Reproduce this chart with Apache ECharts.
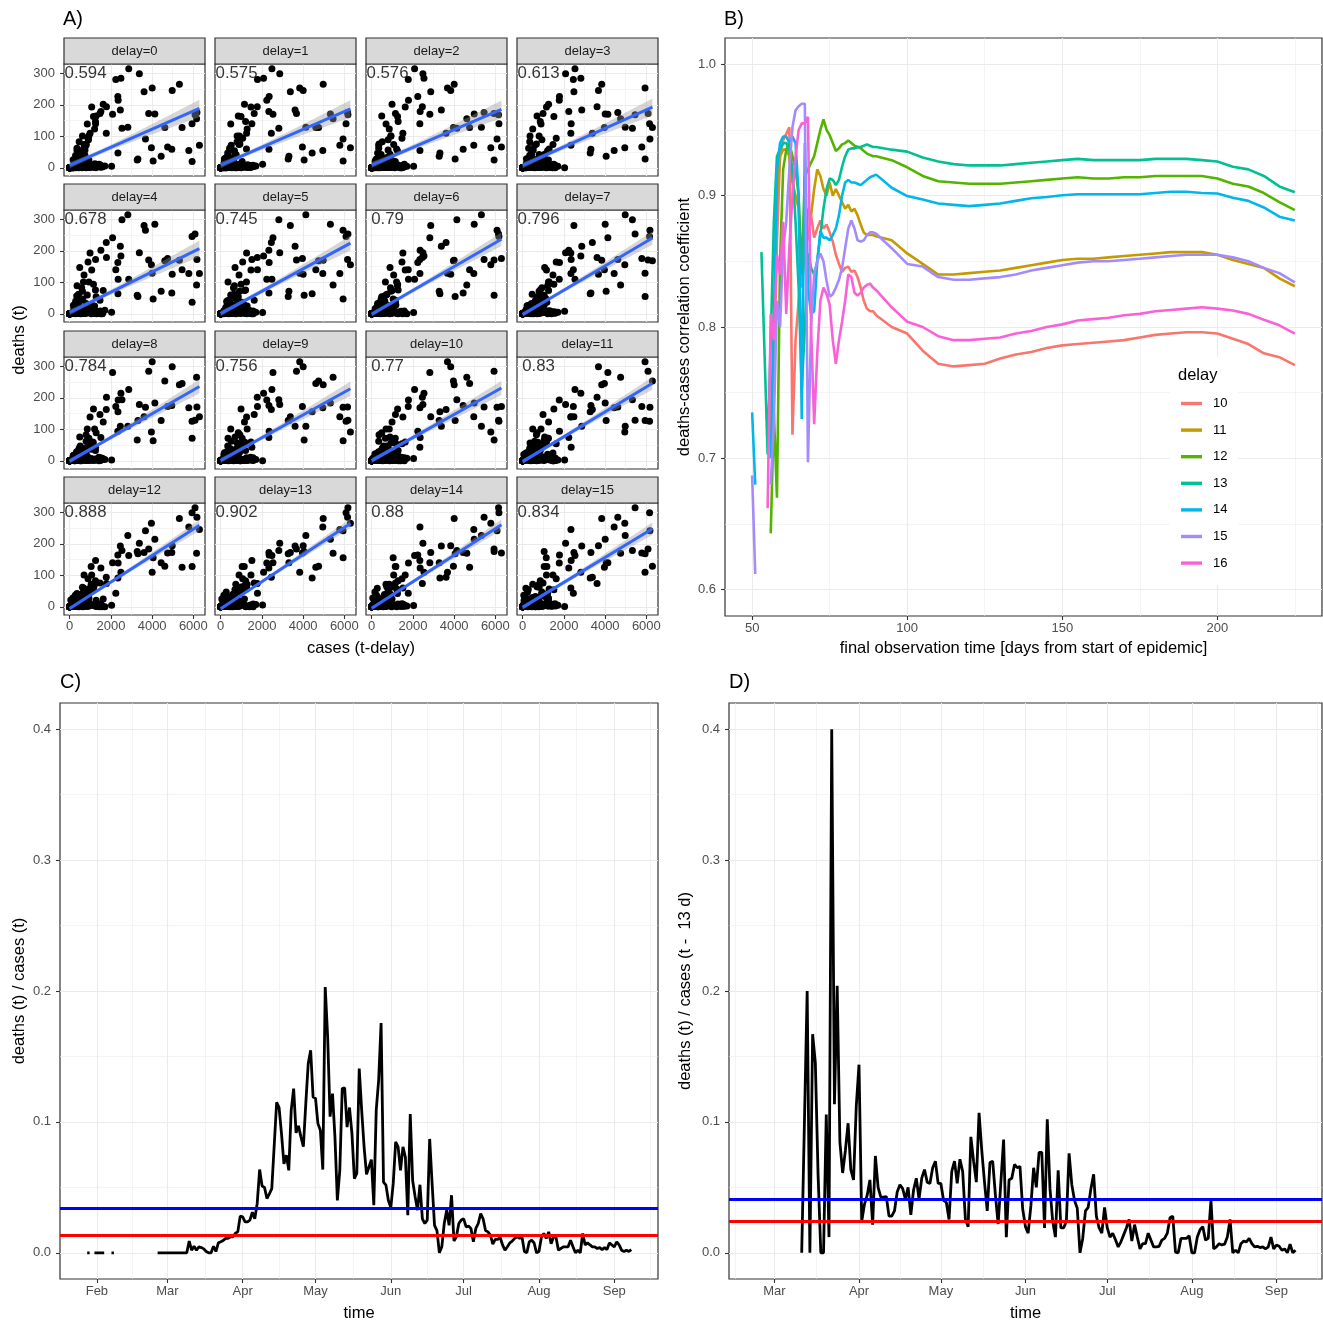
<!DOCTYPE html>
<html>
<head>
<meta charset="utf-8">
<script src="https://cdn.jsdelivr.net/npm/echarts@6/dist/echarts.min.js"></script>
<style>
html,body{margin:0;padding:0;background:#fff}
#chart{width:1323px;height:1321px}
</style>
</head>
<body>
<div id="chart"></div>
<script>
// ---------------- data ----------------
const startDate = '2020-01-28';            // day 0 of the daily series

// daily new cases, day 0 .. 224
const cases = [
  4,1,0,2,1,2,1,1,0,0,
  2,1,0,0,0,0,0,0,0,0,
  0,0,0,0,0,0,0,0,0,2,
  1,11,10,19,33,38,52,66,138,284,
  163,55,237,157,271,802,693,733,1043,1174,
  1144,1042,5940,4049,3276,3311,4438,2342,4954,5780,
  6294,3965,4751,4615,5453,6156,6174,6082,5936,3677,
  3834,4003,4974,5323,4133,2821,2537,2082,2486,2866,
  3380,3609,2458,1775,1785,2237,2352,2337,1514,1257,
  988,1154,1627,1470,1068,890,697,488,854,1284,
  1209,1251,667,357,933,798,933,913,620,583,
  342,513,797,460,745,638,431,289,342,432,
  353,741,286,738,333,183,342,213,555,507,
  301,250,214,350,169,301,396,555,247,192,
  378,345,580,770,601,687,537,503,587,630,
  477,256,298,466,446,390,532,378,248,397,
  442,399,534,583,395,249,159,412,569,209,
  815,781,305,586,633,684,870,955,240,509,
  879,741,1045,1147,1122,555,436,966,1226,1445,
  1449,1415,625,561,1390,1707,1510,1586,2034,1427,
  711,1278,1576,1507,1571,1479,782,610,1218,1576,
  1571,1479,1311,947,509,1218,1504,1256,1311,1453,
  1378,988,814,1499,1176
];

// daily new deaths, day 0 .. 224
const deaths = [
  0,0,0,0,0,0,0,0,0,0,
  0,0,0,0,0,0,0,0,0,0,
  0,0,0,0,0,0,0,0,0,0,
  0,0,0,0,0,0,0,0,0,0,
  0,0,2,0,1,2,3,3,4,2,
  4,8,20,22,25,28,37,47,59,55,
  72,64,66,128,128,156,176,169,140,92,
  173,254,246,266,171,129,126,170,285,315,
  299,242,184,110,194,281,215,227,179,140,
  110,163,202,173,193,94,74,43,139,165,
  123,147,60,54,25,76,101,89,101,33,
  10,21,72,83,57,42,27,10,11,47,
  62,40,39,33,11,1,29,18,29,27,
  11,4,6,18,26,17,21,10,3,3,
  16,14,15,12,6,3,2,12,9,9,
  12,6,3,6,12,9,6,7,3,1,
  6,8,5,8,3,1,0,4,7,5,
  3,9,1,1,6,7,11,8,1,1,
  11,5,7,10,8,3,0,3,13,4,
  7,4,1,1,5,6,6,5,5,11,
  5,0,5,4,4,8,3,0,7,3,
  5,6,4,1,3,9,3,5,6,10,
  5,1,0,3,3
];

const delays = [0,1,2,3,4,5,6,7,8,9,10,11,12,13,14,15];
const corrLabels = ['0.594','0.575','0.576','0.613','0.678','0.745','0.79','0.796',
                    '0.784','0.756','0.77','0.83','0.888','0.902','0.88','0.834'];

// correlation coefficient vs final observation day, one array per delay
const corrDays = [50,51,52,53,54,55,56,57,58,59,60,61,62,63,64,65,66,67,68,69,70,
  71,72,73,74,75,76,77,78,79,80,81,82,83,84,85,86,87,88,89,90,
  95,100,105,110,115,120,125,130,135,140,145,150,155,160,165,170,175,180,185,190,195,200,205,210,215,220,225];
const corrDelayNames = ['10','11','12','13','14','15','16'];
const corr10 = [null,null,null,null,null,null,0.727,0.77,0.865,0.93,
  0.942,0.947,0.952,0.718,0.79,0.82,0.85,0.86,0.868,0.885,
  0.868,0.875,0.881,0.875,0.878,0.872,0.865,0.855,0.848,0.842,
  0.845,0.846,0.842,0.843,0.838,0.83,0.82,0.814,0.812,0.812,0.809,
  0.80,0.795,0.782,0.772,0.770,0.771,0.772,0.776,0.779,0.781,0.784,0.786,0.787,0.788,
  0.789,0.790,0.792,0.794,0.795,0.796,0.796,0.795,0.791,0.787,0.780,0.777,0.771];
const corr11 = [null,null,null,null,null,null,0.72,0.80,0.90,0.93,
  0.935,0.935,0.93,0.91,0.90,0.89,0.83,0.86,0.89,0.885,
  0.905,0.92,0.915,0.905,0.90,0.91,0.90,0.905,0.90,0.895,
  0.89,0.893,0.888,0.89,0.885,0.878,0.872,0.870,0.870,0.870,0.869,
  0.866,0.856,0.848,0.840,0.840,0.841,0.842,0.843,0.845,0.847,0.849,0.851,0.852,0.852,
  0.853,0.854,0.855,0.856,0.857,0.857,0.857,0.855,0.851,0.848,0.845,0.837,0.831];
const corr12 = [null,null,null,null,null,null,0.643,0.735,0.67,0.85,
  0.92,0.935,0.94,0.93,0.92,0.90,0.84,0.915,0.92,0.925,
  0.93,0.94,0.95,0.958,0.95,0.946,0.94,0.934,0.936,0.939,
  0.94,0.942,0.94,0.938,0.937,0.936,0.934,0.932,0.931,0.930,0.930,
  0.927,0.9216,0.915,0.911,0.910,0.909,0.909,0.909,0.910,0.911,0.912,0.913,0.914,0.913,
  0.913,0.914,0.914,0.915,0.915,0.915,0.915,0.913,0.909,0.907,0.902,0.895,0.889];
const corr13 = [null,null,null,0.857,0.78,0.703,0.79,0.88,0.93,0.935,
  0.94,0.94,0.935,0.92,0.88,0.83,0.753,0.80,0.856,0.845,
  0.84,0.85,0.87,0.89,0.905,0.913,0.912,0.908,0.912,0.922,
  0.93,0.935,0.936,0.936,0.937,0.937,0.938,0.939,0.938,0.937,0.937,
  0.935,0.9335,0.929,0.926,0.924,0.923,0.923,0.923,0.924,0.925,0.926,0.927,0.928,0.927,
  0.927,0.927,0.927,0.928,0.928,0.928,0.927,0.926,0.922,0.920,0.915,0.907,0.9026];
const corr14 = [0.735,0.68,null,null,null,null,0.70,0.80,0.92,0.94,
  0.945,0.945,0.94,0.945,0.94,0.90,0.73,0.94,0.83,0.81,
  0.812,0.85,0.873,0.868,0.868,0.866,0.87,0.875,0.885,0.90,
  0.91,0.912,0.91,0.91,0.909,0.908,0.91,0.912,0.914,0.915,0.916,
  0.906,0.8997,0.897,0.894,0.893,0.892,0.893,0.894,0.896,0.898,0.899,0.9003,0.901,0.901,
  0.901,0.901,0.901,0.902,0.903,0.903,0.902,0.9016,0.8984,0.896,0.891,0.884,0.881];
const corr15 = [0.687,0.612,null,null,null,null,0.68,0.727,0.82,0.80,
  0.86,0.88,0.92,0.952,0.965,0.968,0.97,0.97,0.697,0.80,
  0.84,0.85,0.856,0.85,0.835,0.823,0.825,0.83,0.836,0.845,
  0.86,0.875,0.881,0.875,0.866,0.865,0.866,0.87,0.872,0.872,0.871,
  0.86,0.848,0.846,0.838,0.836,0.836,0.837,0.838,0.840,0.843,0.845,0.847,0.849,0.850,
  0.850,0.851,0.852,0.853,0.854,0.855,0.855,0.855,0.853,0.850,0.845,0.841,0.834];
const corr16 = [null,null,null,null,null,0.662,0.81,0.79,0.855,0.84,
  0.88,0.81,0.86,0.90,0.93,0.95,0.955,0.955,0.96,0.80,
  0.726,0.78,0.82,0.83,0.825,0.817,0.79,0.772,0.79,0.804,
  0.82,0.84,0.838,0.826,0.824,0.826,0.83,0.832,0.833,0.83,0.828,
  0.815,0.804,0.80,0.793,0.790,0.790,0.791,0.792,0.795,0.797,0.800,0.802,0.805,0.806,
  0.807,0.809,0.810,0.812,0.813,0.814,0.815,0.814,0.8125,0.810,0.8055,0.8013,0.7949];
const corrColors = ['#F8766D','#C49A00','#53B400','#00C094','#00B6EB','#A58AFF','#FB61D7'];

// deaths(t) / cases(t), day 0 .. 224
const ratioSame = [
  0,0,null,0,0,0,0,0,null,null,
  0,0,null,null,null,null,null,null,null,null,
  null,null,null,null,null,null,null,null,null,0,
  0,0,0,0,0,0,0,0,0,0,
  0,0,0.009,0.002,0.005,0.002,0.0046,0.004,0.003,0.001,
  0,0,0.005,0.001,0.0076,0.0084,0.0094,0.011,0.011,0.0122,
  0.0122,0.015,0.016,0.028,0.0275,0.0237,0.0237,0.025,0.031,0.026,
  0.0377,0.0636,0.051,0.050,0.0415,0.045,0.049,0.082,0.115,0.111,
  0.091,0.068,0.0746,0.063,0.109,0.1254,0.0916,0.097,0.0886,0.081,
  0.114,0.1445,0.1547,0.119,0.118,0.0987,0.0936,0.0636,0.203,0.165,
  0.104,0.1216,0.0886,0.040,0.063,0.1254,0.126,0.096,0.111,0.091,
  0.0567,0.0606,0.1407,0.109,0.081,0.060,0.0656,0.0712,0.0364,0.109,
  0.132,0.1756,0.054,0.0517,0.040,0.0346,0.053,0.0847,0.081,0.063,
  0.081,0.073,0.0288,0.106,0.055,0.043,0.0326,0.052,0.026,0.0224,
  0.025,0.087,0.053,0.021,0.017,0,0.0046,0.0224,0.0326,0.021,
  0.044,0.009,0.0122,0.0224,0.025,0.026,0.0198,0.0204,0.0186,0.0084,
  0.0186,0.0224,0.030,0.026,0.017,0.016,0.0135,0.0066,0.0102,0.0102,
  0.012,0.006,0.002,0.0046,0.0076,0.009,0.011,0.0122,0.011,0.0122,
  0.001,0,0.0084,0.0097,0.0075,0,0.001,0.012,0.0148,0.011,
  0.016,0.007,0.012,0.012,0.002,0.0033,0.0046,0.0046,0.0046,0.0097,
  0.0046,0,0.002,0,0.0148,0.006,0.0076,0.006,0.0046,0.0046,
  0.0033,0.004,0.0025,0.004,0.0025,0.0076,0.006,0.0046,0.0084,0.006,
  0.002,0.001,0.002,0.001,0.0025
];

// deaths(t) / cases(t - 13 d), day 0 .. 224
const ratioLag13 = [
  null,null,null,null,null,null,null,null,null,null,
  null,null,null,null,null,null,null,null,null,null,
  null,null,null,null,null,null,null,null,null,null,
  null,null,null,null,null,null,null,null,null,null,
  null,null,null,0,0.1,0.2,0,0.167,0.145,0.06,
  0,0,0.1057,0.012,0.40,0.1135,0.204,0.0846,0.061,0.078,
  0.099,0.0636,0.0557,0.112,0.1437,0.024,0.037,0.044,0.0557,0.0215,
  0.074,0.050,0.0426,0.0426,0.043,0.028,0.028,0.032,0.0465,0.052,
  0.049,0.041,0.050,0.029,0.048,0.057,0.041,0.057,0.0636,0.054,
  0.053,0.065,0.070,0.053,0.053,0.040,0.0386,0.0255,0.0623,0.070,
  0.053,0.0715,0.062,0.0255,0.020,0.0886,0.070,0.054,0.107,0.078,
  0.054,0.032,0.069,0.070,0.044,0.022,0.054,0.0865,0.012,0.0557,
  0.057,0.0675,0.065,0.066,0.0334,0.020,0.015,0.036,0.065,0.050,
  0.0767,0.0767,0.019,0.102,0.049,0.024,0.012,0.063,0.019,0.019,
  0.024,0.076,0.052,0.040,0.034,0,0.011,0.032,0.0347,0.049,
  0.060,0.028,0.019,0.015,0.0347,0.019,0.012,0.015,0.010,0.0045,
  0.0084,0.0137,0.019,0.0255,0.009,0.0215,0.012,0.003,0.007,0.007,
  0.015,0.0097,0.0045,0.0045,0.005,0.0097,0.011,0.015,0.0268,0.028,
  0.0005,0,0.011,0.011,0.011,0.013,0,0,0.012,0.0176,
  0.020,0.0097,0.011,0.040,0.003,0.0045,0.007,0.006,0.0066,0.012,
  0.0255,0,0.002,0,0.007,0.009,0.0084,0.011,0.007,0.0045,
  0.005,0.004,0.0045,0.003,0.0045,0.012,0.003,0.006,0.005,0.002,
  0.003,0,0.0066,0,0.002
];

// reference levels (blue, red) drawn across the ratio panels
const levelsSame  = [0.0338, 0.0132];
const levelsLag13 = [0.0409, 0.0241];
const levelColors = ['#0000FF', '#FF0000'];

// tick labels
const facetXTicks = [0, 2000, 4000, 6000];
const facetYTicks = [0, 100, 200, 300];
const corrXTicks  = [50, 100, 150, 200];
const corrYTicks  = [0.6, 0.7, 0.8, 0.9, 1.0];
const ratioYTicks = [0, 0.1, 0.2, 0.3, 0.4];
const monthStarts = ['2020-01-01','2020-02-01','2020-03-01','2020-04-01','2020-05-01',
                     '2020-06-01','2020-07-01','2020-08-01','2020-09-01','2020-10-01'];
const monthNames  = ['Jan','Feb','Mar','Apr','May','Jun','Jul','Aug','Sep','Oct'];

// ---------------- helpers ----------------
const FONT = '"Liberation Sans", Arial, Helvetica, sans-serif';
const GRID_COL = '#EBEBEB';
const grids = [], xAxes = [], yAxes = [], series = [], graphics = [];

const t0 = Date.parse(startDate + 'T00:00:00Z');
const monthDay = monthStarts.map(s => Math.round((Date.parse(s + 'T00:00:00Z') - t0) / 864e5));
const monthFmt = v => monthNames[monthDay.indexOf(Math.round(v))] || '';
function monthBreaks(min, max) {
  const major = monthDay.filter(d => d >= min && d <= max);
  const minor = [];
  for (let i = 0; i + 1 < monthDay.length; i++) {
    const m = (monthDay[i] + monthDay[i + 1]) / 2;
    if (m >= min && m <= max) minor.push(m);
  }
  return { major, minor };
}
function midpoints(ticks, min, max) {
  const step = ticks[1] - ticks[0];
  const out = [];
  for (let i = -1; i < ticks.length; i++) {
    const m = ticks[0] + step * (i + 0.5);
    if (m > min && m < max) out.push(+m.toFixed(6));
  }
  return out;
}

function mainAxis(dim, gi, s) {
  return {
    type: 'value', gridIndex: gi, min: s.min, max: s.max,
    position: dim === 'x' ? 'bottom' : 'left',
    axisLine: { show: false, onZero: false },
    axisTick: { show: s.labels, customValues: s.major, length: 4, lineStyle: { color: '#333333', width: 1.1 } },
    axisLabel: { show: s.labels, customValues: s.major, formatter: s.fmt, color: '#4D4D4D',
                 fontSize: 13, fontFamily: FONT, margin: dim === 'x' ? (s.margin || 5) : 9 },
    splitLine: { show: true, lineStyle: { color: GRID_COL, width: 1.1 } },
    minorTick: { show: false }, minorSplitLine: { show: false }
  };
}
function minorAxis(dim, gi, s) {
  return {
    type: 'value', gridIndex: gi, min: s.min, max: s.max,
    position: dim === 'x' ? 'top' : 'right',
    axisLine: { show: false, onZero: false },
    axisTick: { show: false, customValues: s.minor },
    axisLabel: { show: false, customValues: s.minor },
    splitLine: { show: true, lineStyle: { color: GRID_COL, width: 0.55 } }
  };
}
function addPanel(r, xs, ys) {
  const gi = grids.length;
  grids.push({ left: r.x, top: r.y, width: r.w, height: r.h, show: true,
               backgroundColor: '#fff', borderColor: '#333333', borderWidth: 1.2,
               containLabel: false, outerBoundsMode: 'none' });
  const xi = xAxes.length; xAxes.push(mainAxis('x', gi, xs), minorAxis('x', gi, xs));
  const yi = yAxes.length; yAxes.push(mainAxis('y', gi, ys), minorAxis('y', gi, ys));
  return { xi, yi };
}
function text(str, x, y, size, opts = {}) {
  graphics.push({
    type: 'text', x, y, rotation: opts.rotation || 0, silent: true, z: 100,
    style: { text: str, fill: opts.color || '#000', font: size + 'px ' + FONT,
             textAlign: opts.align || 'center', align: opts.align || 'center',
             textVerticalAlign: 'middle', verticalAlign: 'middle' }
  });
}
function linFit(pts) {
  const n = pts.length;
  let mx = 0, my = 0;
  pts.forEach(p => { mx += p[0]; my += p[1]; });
  mx /= n; my /= n;
  let sxx = 0, sxy = 0;
  pts.forEach(p => { sxx += (p[0] - mx) ** 2; sxy += (p[0] - mx) * (p[1] - my); });
  const b = sxy / sxx, a = my - b * mx;
  let sse = 0;
  pts.forEach(p => { sse += (p[1] - a - b * p[0]) ** 2; });
  return { a, b, mx, sxx, n, s: Math.sqrt(sse / (n - 2)) };
}

// ---------------- A) scatter facets ----------------
const colX = [64, 215, 366, 517];
const stripTop = [38, 184, 331, 477];
const FW = 141, SH = 26, PH = 112;
const facetX = { min: -275, max: 6565 };
const facetY = { min: -26, max: 330 };

delays.forEach((k, i) => {
  const r = Math.floor(i / 4), c = i % 4;
  const p = addPanel({ x: colX[c], y: stripTop[r] + SH, w: FW, h: PH },
    { ...facetX, major: facetXTicks, minor: midpoints(facetXTicks, facetX.min, facetX.max), labels: r === 3, fmt: v => String(v) },
    { ...facetY, major: facetYTicks, minor: midpoints(facetYTicks, facetY.min, facetY.max), labels: c === 0, fmt: v => String(v) });

  const pts = [];
  for (let t = k; t < cases.length; t++) pts.push([cases[t - k], deaths[t]]);
  const f = linFit(pts);
  const xs = pts.map(q => q[0]);
  const x0 = Math.min(...xs), x1 = Math.max(...xs);
  const upper = [], lower = [];
  for (let j = 0; j <= 60; j++) {
    const x = x0 + (x1 - x0) * j / 60;
    const yh = f.a + f.b * x;
    const h = 1.97 * f.s * Math.sqrt(1 / f.n + (x - f.mx) ** 2 / f.sxx);
    upper.push([x, yh + h]); lower.push([x, yh - h]);
  }
  const band = upper.concat(lower.reverse());

  series.push({ type: 'scatter', xAxisIndex: p.xi, yAxisIndex: p.yi, data: pts,
                symbolSize: 7, itemStyle: { color: '#000', opacity: 1 }, silent: true, z: 2 });
  series.push({ type: 'custom', xAxisIndex: p.xi, yAxisIndex: p.yi, data: [[0, 0]], silent: true, clip: true, z: 3,
                renderItem: (params, api) => ({ type: 'polygon',
                  shape: { points: band.map(q => api.coord(q)) },
                  style: { fill: 'rgba(153,153,153,0.4)' } }) });
  series.push({ type: 'line', xAxisIndex: p.xi, yAxisIndex: p.yi, silent: true, z: 4,
                data: [[x0, f.a + f.b * x0], [x1, f.a + f.b * x1]], showSymbol: false, symbol: 'none',
                lineStyle: { color: '#3366FF', width: 3 } });
  series.push({ type: 'scatter', xAxisIndex: p.xi, yAxisIndex: p.yi, silent: true, z: 5,
                data: [[770, 300]], symbolSize: 1, itemStyle: { color: 'rgba(0,0,0,0)' },
                label: { show: true, position: 'inside', formatter: corrLabels[i], color: '#000',
                         fontSize: 16.8, fontFamily: FONT } });

  graphics.push({ type: 'rect', silent: true, z: 90,
                  shape: { x: colX[c], y: stripTop[r], width: FW, height: SH },
                  style: { fill: '#D9D9D9', stroke: '#333333', lineWidth: 1.2 } });
  text('delay=' + k, colX[c] + FW / 2, stripTop[r] + SH / 2 + 0.5, 13, { color: '#1A1A1A' });
});
text('A)', 63, 19, 20, { align: 'left' });
text('deaths (t)', 19, 340, 16.5, { rotation: Math.PI / 2 });
text('cases (t-delay)', 361, 648, 16.5);

// ---------------- B) correlation over time ----------------
{
  const xs = { min: 41.25, max: 233.75 }, ys = { min: 0.58, max: 1.02 };
  const p = addPanel({ x: 725, y: 38, w: 597, h: 578 },
    { ...xs, major: corrXTicks, minor: midpoints(corrXTicks, xs.min, xs.max), labels: true, fmt: v => String(v), margin: 6 },
    { ...ys, major: corrYTicks, minor: midpoints(corrYTicks, ys.min, ys.max), labels: true, fmt: v => v.toFixed(1) });
  [corr10, corr11, corr12, corr13, corr14, corr15, corr16].forEach((vals, j) => {
    series.push({ type: 'line', name: corrDelayNames[j], xAxisIndex: p.xi, yAxisIndex: p.yi,
                  data: corrDays.map((d, m) => [d, vals[m]]), showSymbol: false, symbol: 'none',
                  connectNulls: false, silent: true, z: 3,
                  itemStyle: { color: corrColors[j] }, lineStyle: { color: corrColors[j], width: 2.6 } });
  });
  text('B)', 724, 19, 20, { align: 'left' });
  text('deaths-cases correlation coefficient', 684, 327, 16.5, { rotation: Math.PI / 2 });
  text('final observation time [days from start of epidemic]', 1023.5, 648, 16.5);
  text('delay', 1178, 375, 16.5, { align: 'left' });
}

// ---------------- C) and D) ratio time series ----------------
function ratioPanel(rect, xr, vals, levels, tag, ytitle, ytitleX) {
  const mb = monthBreaks(xr.min, xr.max);
  const ys = { min: -0.02, max: 0.42 };
  const p = addPanel(rect,
    { ...xr, major: mb.major, minor: mb.minor, labels: true, fmt: monthFmt, margin: 6 },
    { ...ys, major: ratioYTicks, minor: midpoints(ratioYTicks, ys.min, ys.max), labels: true, fmt: v => v.toFixed(1) });
  series.push({ type: 'line', xAxisIndex: p.xi, yAxisIndex: p.yi, silent: true, z: 3,
                data: vals.map((v, d) => [d, v]), showSymbol: false, symbol: 'none', connectNulls: false,
                lineStyle: { color: '#000', width: 2.8 },
                markLine: { silent: true, precision: 6, symbol: ['none', 'none'], label: { show: false }, animation: false,
                            data: levels.map((v, j) => ({ yAxis: v, lineStyle: { color: levelColors[j], width: 2.8, type: 'solid' } })) } });
  text(tag, rect.x, 682, 20, { align: 'left' });
  text(ytitle, ytitleX, rect.y + rect.h / 2, 16.5, { rotation: Math.PI / 2 });
  text('time', rect.x + rect.w / 2, 1313, 16.5);
}
ratioPanel({ x: 60, y: 703, w: 598, h: 576 }, { min: -11.19, max: 235.0 }, ratioSame, levelsSame,
           'C)', 'deaths (t) / cases (t)', 19);
ratioPanel({ x: 729, y: 703, w: 593, h: 576 }, { min: 16.35, max: 233.7 }, ratioLag13, levelsLag13,
           'D)', 'deaths (t) / cases (t -  13 d)', 685);

// ---------------- render ----------------
const chart = echarts.init(document.getElementById('chart'), null, { renderer: 'canvas', width: 1323, height: 1321 });
chart.setOption({
  animation: false,
  backgroundColor: '#fff',
  textStyle: { fontFamily: FONT },
  grid: grids, xAxis: xAxes, yAxis: yAxes, series,
  legend: {
    data: corrDelayNames, orient: 'vertical', left: 1170, top: 357,
    padding: [39.5, 10.5, 15, 11], backgroundColor: '#fff',
    itemWidth: 21, itemHeight: 3.4, itemGap: 12.6, icon: 'rect', selectedMode: false,
    textStyle: { fontSize: 13, lineHeight: 14, color: '#000', fontFamily: FONT, padding: [0, 0, 0, 6] }
  },
  graphic: { elements: graphics }
});
</script>
</body>
</html>
